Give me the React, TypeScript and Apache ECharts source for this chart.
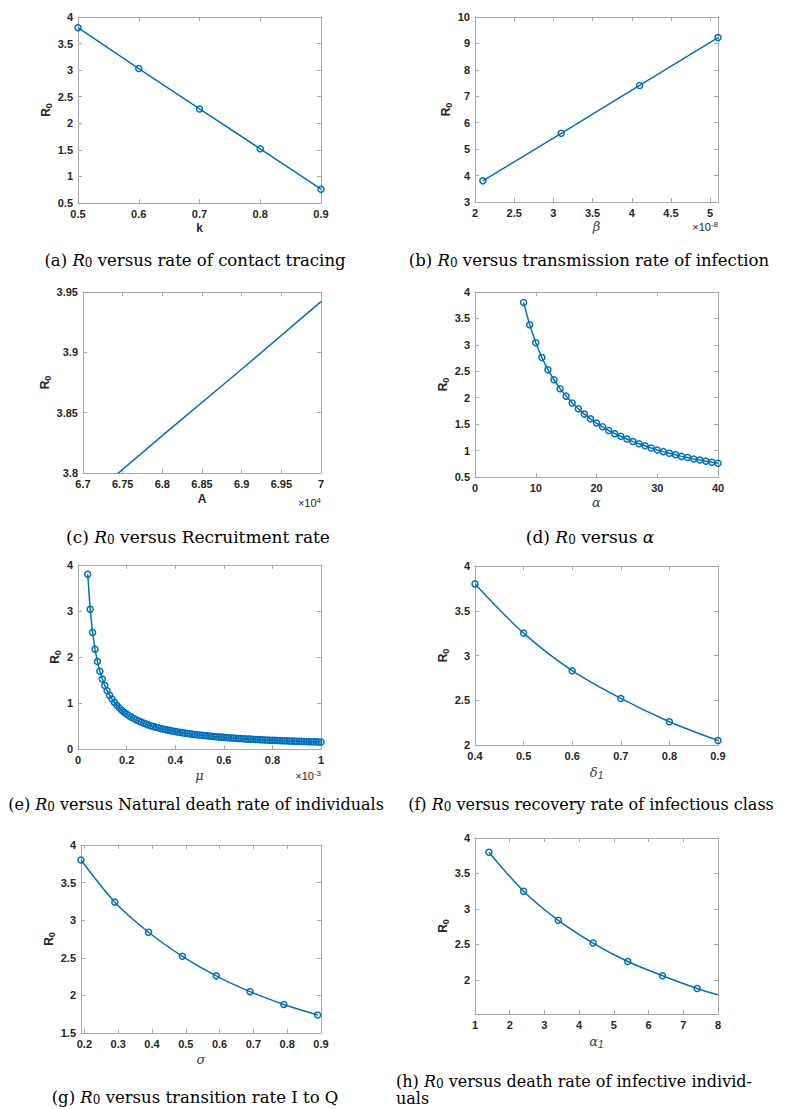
import React, { useEffect, useRef } from "react";
import * as echarts from "echarts";

// (a) contact tracing rate k
const kVals = [0.5, 0.6, 0.7, 0.8, 0.9];
const kR0 = [3.8, 3.03, 2.27, 1.52, 0.76];
const kXTicks = [0.5, 0.6, 0.7, 0.8, 0.9];
const kYTicks = [0.5, 1, 1.5, 2, 2.5, 3, 3.5, 4];

// (b) transmission rate beta (x 1e-8)
const betaVals = [2.1, 3.1, 4.1, 5.1];
const betaR0 = [3.8, 5.6, 7.41, 9.22];
const betaXTicks = [2, 2.5, 3, 3.5, 4, 4.5, 5];
const betaYTicks = [3, 4, 5, 6, 7, 8, 9, 10];

// (c) recruitment rate A (x 1e4)
const aVals = [6.7, 6.8, 6.9, 7.0];
const aR0 = [3.775, 3.831, 3.886, 3.942];
const aXTicks = [6.7, 6.75, 6.8, 6.85, 6.9, 6.95, 7];
const aYTicks = [3.8, 3.85, 3.9, 3.95];

// (d) alpha
const alphaVals = [8, 9, 10, 11, 12, 13, 14, 15, 16, 17, 18, 19, 20, 21, 22, 23, 24, 25, 26, 27, 28, 29, 30, 31, 32, 33, 34, 35, 36, 37, 38, 39, 40];
const alphaR0 = [3.8, 3.38, 3.04, 2.76, 2.53, 2.34, 2.17, 2.03, 1.9, 1.79, 1.69, 1.6, 1.52, 1.45, 1.38, 1.32, 1.27, 1.22, 1.17, 1.13, 1.09, 1.05, 1.01, 0.98, 0.95, 0.92, 0.89, 0.87, 0.84, 0.82, 0.8, 0.78, 0.76];
const alphaXTicks = [0, 10, 20, 30, 40];
const alphaYTicks = [0.5, 1, 1.5, 2, 2.5, 3, 3.5, 4];

// (e) natural death rate mu (x 1e-3)
const muVals = [
  0.04, 0.05, 0.06, 0.07, 0.08, 0.09, 0.1, 0.11, 0.12, 0.13, 0.14, 0.15, 0.16, 0.17, 0.18, 0.19,
  0.2, 0.21, 0.22, 0.23, 0.24, 0.25, 0.26, 0.27, 0.28, 0.29, 0.3, 0.31, 0.32, 0.33, 0.34, 0.35,
  0.36, 0.37, 0.38, 0.39, 0.4, 0.41, 0.42, 0.43, 0.44, 0.45, 0.46, 0.47, 0.48, 0.49, 0.5, 0.51,
  0.52, 0.53, 0.54, 0.55, 0.56, 0.57, 0.58, 0.59, 0.6, 0.61, 0.62, 0.63, 0.64, 0.65, 0.66, 0.67,
  0.68, 0.69, 0.7, 0.71, 0.72, 0.73, 0.74, 0.75, 0.76, 0.77, 0.78, 0.79, 0.8, 0.81, 0.82, 0.83,
  0.84, 0.85, 0.86, 0.87, 0.88, 0.89, 0.9, 0.91, 0.92, 0.93, 0.94, 0.95, 0.96, 0.97, 0.98, 0.99, 1.0,
];
const muR0 = [
  3.8, 3.04, 2.533, 2.171, 1.9, 1.689, 1.52, 1.382, 1.267, 1.169, 1.086, 1.013, 0.95, 0.894, 0.844, 0.8,
  0.76, 0.724, 0.691, 0.661, 0.633, 0.608, 0.585, 0.563, 0.543, 0.524, 0.507, 0.49, 0.475, 0.461, 0.447, 0.434,
  0.422, 0.411, 0.4, 0.39, 0.38, 0.371, 0.362, 0.353, 0.345, 0.338, 0.33, 0.323, 0.317, 0.31, 0.304, 0.298,
  0.292, 0.287, 0.281, 0.276, 0.271, 0.267, 0.262, 0.258, 0.253, 0.249, 0.245, 0.241, 0.238, 0.234, 0.23, 0.227,
  0.224, 0.22, 0.217, 0.214, 0.211, 0.208, 0.205, 0.203, 0.2, 0.197, 0.195, 0.192, 0.19, 0.188, 0.185, 0.183,
  0.181, 0.179, 0.177, 0.175, 0.173, 0.171, 0.169, 0.167, 0.165, 0.163, 0.162, 0.16, 0.158, 0.157, 0.155, 0.154, 0.152,
];
const muXTicks = [0, 0.2, 0.4, 0.6, 0.8, 1];
const muYTicks = [0, 1, 2, 3, 4];

// (f) recovery rate delta1
const deltaVals = [0.4, 0.5, 0.6, 0.7, 0.8, 0.9];
const deltaR0 = [3.8, 3.25, 2.83, 2.52, 2.26, 2.05];
const deltaXTicks = [0.4, 0.5, 0.6, 0.7, 0.8, 0.9];
const deltaYTicks = [2, 2.5, 3, 3.5, 4];

// (g) transition rate sigma
const sigmaVals = [0.19, 0.29, 0.39, 0.49, 0.59, 0.69, 0.79, 0.89];
const sigmaR0 = [3.8, 3.24, 2.84, 2.52, 2.26, 2.05, 1.88, 1.74];
const sigmaXTicks = [0.2, 0.3, 0.4, 0.5, 0.6, 0.7, 0.8, 0.9];
const sigmaYTicks = [1.5, 2, 2.5, 3, 3.5, 4];

// (h) death rate alpha1
const alpha1Vals = [1.4, 2.4, 3.4, 4.4, 5.4, 6.4, 7.4, 8.0];
const alpha1R0 = [3.8, 3.25, 2.84, 2.52, 2.26, 2.06, 1.88, 1.79];
const alpha1XTicks = [1, 2, 3, 4, 5, 6, 7, 8];
const alpha1YTicks = [2, 2.5, 3, 3.5, 4];

const BLUE = "#0072BD";
const AXIS = "#a8a8a8";
const TXT = "#262626";
const SANS = "'Liberation Sans', Arial, Helvetica, sans-serif";
const SERIF = "'DejaVu Serif', 'Liberation Serif', serif";

const fmt = (v: number) => String(Math.round(v * 10000) / 10000);

type Panel = {
  grid: { left: number; top: number; width: number; height: number };
  xs: number[];
  ys: number[];
  xMin: number; xMax: number; yMin: number; yMax: number;
  xTicks: number[]; yTicks: number[];
  xName: string; xNameGreek: boolean; xNameGap: number;
  yNameGap: number;
  markers: boolean;
  smooth: number | boolean;
  noMarkerLast?: boolean;
};

const panels: Panel[] = [
  { grid: { left: 78, top: 17, width: 243, height: 186 }, xs: kVals, ys: kR0, xMin: 0.5, xMax: 0.9, yMin: 0.5, yMax: 4, xTicks: kXTicks, yTicks: kYTicks, xName: "k", xNameGreek: false, xNameGap: 19, yNameGap: 21, markers: true, smooth: false },
  { grid: { left: 475, top: 17, width: 243, height: 185 }, xs: betaVals, ys: betaR0, xMin: 2, xMax: 5.1, yMin: 3, yMax: 10, xTicks: betaXTicks, yTicks: betaYTicks, xName: "β", xNameGreek: true, xNameGap: 18, yNameGap: 21, markers: true, smooth: false },
  { grid: { left: 83, top: 292, width: 238, height: 181 }, xs: aVals, ys: aR0, xMin: 6.7, xMax: 7, yMin: 3.8, yMax: 3.95, xTicks: aXTicks, yTicks: aYTicks, xName: "A", xNameGreek: false, xNameGap: 20, yNameGap: 29, markers: false, smooth: false },
  { grid: { left: 475, top: 292, width: 243, height: 185 }, xs: alphaVals, ys: alphaR0, xMin: 0, xMax: 40, yMin: 0.5, yMax: 4, xTicks: alphaXTicks, yTicks: alphaYTicks, xName: "α", xNameGreek: true, xNameGap: 19, yNameGap: 21, markers: true, smooth: false },
  { grid: { left: 78, top: 565, width: 243, height: 184 }, xs: muVals, ys: muR0, xMin: 0, xMax: 1, yMin: 0, yMax: 4, xTicks: muXTicks, yTicks: muYTicks, xName: "μ", xNameGreek: true, xNameGap: 20, yNameGap: 15, markers: true, smooth: false },
  { grid: { left: 475, top: 566, width: 243, height: 179 }, xs: deltaVals, ys: deltaR0, xMin: 0.4, xMax: 0.9, yMin: 2, yMax: 4, xTicks: deltaXTicks, yTicks: deltaYTicks, xName: "{g|δ}{s|1}", xNameGreek: true, xNameGap: 19, yNameGap: 23, markers: true, smooth: 0.3 },
  { grid: { left: 81, top: 845, width: 240, height: 188 }, xs: sigmaVals, ys: sigmaR0, xMin: 0.19, xMax: 0.9, yMin: 1.5, yMax: 4, xTicks: sigmaXTicks, yTicks: sigmaYTicks, xName: "σ", xNameGreek: true, xNameGap: 20, yNameGap: 25, markers: true, smooth: 0.3 },
  { grid: { left: 475, top: 838, width: 243, height: 176 }, xs: alpha1Vals, ys: alpha1R0, xMin: 1, xMax: 8, yMin: 1.52, yMax: 4, xTicks: alpha1XTicks, yTicks: alpha1YTicks, xName: "{g|α}{s|1}", xNameGreek: true, xNameGap: 19, yNameGap: 21, markers: true, smooth: 0.3, noMarkerLast: true },
];

const captions = [
  { text: "(a) {i|R}{s|0} versus rate of contact tracing", x: 195, y: 260, align: "center", size: 16.5 },
  { text: "(b) {i|R}{s|0} versus transmission rate of infection", x: 589, y: 260, align: "center", size: 16.5 },
  { text: "(c) {i|R}{s|0} versus Recruitment rate", x: 198, y: 537, align: "center", size: 17 },
  { text: "(d) {i|R}{s|0} versus {i|α}", x: 590, y: 537, align: "center", size: 17 },
  { text: "(e) {i|R}{s|0} versus Natural death rate of individuals", x: 196, y: 804, align: "center", size: 16 },
  { text: "(f) {i|R}{s|0} versus recovery rate of infectious class", x: 591, y: 804, align: "center", size: 16 },
  { text: "(g) {i|R}{s|0} versus transition rate I to Q", x: 195, y: 1097, align: "center", size: 16.5 },
  { text: "(h) {i|R}{s|0} versus death rate of infective individ-\nuals", x: 396, y: 1090, align: "left", size: 16 },
];

const multipliers = [
  { exp: "-8", x: 718, y: 227 },
  { exp: "4", x: 321, y: 503 },
  { exp: "-3", x: 321, y: 776 },
];

function buildOption() {
  const grid: any[] = [];
  const xAxis: any[] = [];
  const yAxis: any[] = [];
  const series: any[] = [];

  const tickStyle = { color: AXIS, width: 1 };
  const labelStyle = { color: TXT, fontWeight: "bold", fontSize: 11, fontFamily: SANS };

  panels.forEach((p, i) => {
    grid.push({ ...p.grid, containLabel: false });
    const xNameStyle = p.xNameGreek
      ? {
          color: "#3a3a3a",
          fontFamily: SERIF,
          fontStyle: "italic",
          fontSize: 13,
          rich: {
            g: { color: "#3a3a3a", fontFamily: SERIF, fontStyle: "italic", fontSize: 13, lineHeight: 16 },
            s: { color: "#3a3a3a", fontFamily: SANS, fontSize: 10, lineHeight: 9, verticalAlign: "bottom" },
          },
        }
      : { color: TXT, fontFamily: SANS, fontWeight: "bold", fontSize: 12 };
    xAxis.push({
      type: "value", gridIndex: i, position: "bottom", min: p.xMin, max: p.xMax,
      axisLine: { show: true, onZero: false, lineStyle: tickStyle },
      axisTick: { show: true, inside: true, length: 4, customValues: p.xTicks, lineStyle: tickStyle },
      axisLabel: { show: true, customValues: p.xTicks, margin: 5, formatter: fmt, ...labelStyle },
      splitLine: { show: false },
      name: p.xName, nameLocation: "middle", nameGap: p.xNameGap, nameTextStyle: xNameStyle,
    });
    xAxis.push({
      type: "value", gridIndex: i, position: "top", min: p.xMin, max: p.xMax,
      axisLine: { show: true, onZero: false, lineStyle: tickStyle },
      axisTick: { show: true, inside: true, length: 4, customValues: p.xTicks, lineStyle: tickStyle },
      axisLabel: { show: false },
      splitLine: { show: false },
    });
    yAxis.push({
      type: "value", gridIndex: i, position: "left", min: p.yMin, max: p.yMax,
      axisLine: { show: true, onZero: false, lineStyle: tickStyle },
      axisTick: { show: true, inside: true, length: 4, customValues: p.yTicks, lineStyle: tickStyle },
      axisLabel: { show: true, customValues: p.yTicks, margin: 5, formatter: fmt, ...labelStyle },
      splitLine: { show: false },
      name: "{r|R}{s|0}", nameLocation: "middle", nameRotate: 90, nameGap: p.yNameGap,
      nameTextStyle: {
        rich: {
          r: { color: TXT, fontFamily: SANS, fontWeight: "bold", fontSize: 12, lineHeight: 15 },
          s: { color: TXT, fontFamily: SANS, fontWeight: "bold", fontSize: 9, lineHeight: 8, verticalAlign: "bottom" },
        },
      },
    });
    yAxis.push({
      type: "value", gridIndex: i, position: "right", min: p.yMin, max: p.yMax,
      axisLine: { show: true, onZero: false, lineStyle: tickStyle },
      axisTick: { show: true, inside: true, length: 4, customValues: p.yTicks, lineStyle: tickStyle },
      axisLabel: { show: false },
      splitLine: { show: false },
    });

    const data = p.xs.map((x, j) => {
      if (p.noMarkerLast && j === p.xs.length - 1) {
        return { value: [x, p.ys[j]], symbol: "none" };
      }
      return [x, p.ys[j]];
    });
    series.push({
      type: "line",
      xAxisIndex: 2 * i,
      yAxisIndex: 2 * i,
      data,
      smooth: p.smooth,
      symbol: p.markers ? "circle" : "none",
      symbolSize: 6,
      showSymbol: p.markers,
      clip: true,
      lineStyle: { color: BLUE, width: 1.5 },
      itemStyle: { color: "rgba(255,255,255,0)", borderColor: BLUE, borderWidth: 1.5 },
      emphasis: { disabled: true },
      z: 3,
    });
  });

  const graphic: any[] = [];
  captions.forEach((c) => {
    graphic.push({
      type: "text",
      x: c.x,
      y: c.y,
      silent: true,
      style: {
        text: c.text,
        align: c.align,
        verticalAlign: "middle",
        fontFamily: SERIF,
        fontSize: c.size,
        lineHeight: 17,
        fill: "#000",
        rich: {
          i: { fontFamily: SERIF, fontStyle: "italic", fontSize: c.size, lineHeight: 17, fill: "#000" },
          s: { fontFamily: SERIF, fontSize: 12, lineHeight: 9, verticalAlign: "bottom", fill: "#000" },
        },
      },
    });
  });
  multipliers.forEach((m) => {
    graphic.push({
      type: "text",
      x: m.x,
      y: m.y,
      silent: true,
      style: {
        text: "×10{e|" + m.exp + "}",
        align: "right",
        verticalAlign: "middle",
        fontFamily: SANS,
        fontSize: 11,
        lineHeight: 14,
        fill: TXT,
        rich: {
          e: { fontFamily: SANS, fontSize: 8, lineHeight: 8, verticalAlign: "top", fill: TXT },
        },
      },
    });
  });

  return {
    animation: false,
    backgroundColor: "#ffffff",
    grid,
    xAxis,
    yAxis,
    series,
    graphic,
  };
}

export default function App() {
  const ref = useRef<HTMLDivElement>(null);
  useEffect(() => {
    if (!ref.current) return;
    const chart = echarts.init(ref.current, undefined, { renderer: "svg" });
    chart.setOption(buildOption() as any);
    return () => chart.dispose();
  }, []);
  return (
    <div
      ref={ref}
      style={{ position: "absolute", left: 0, top: 0, width: 787, height: 1109, background: "#fff" }}
    />
  );
}
